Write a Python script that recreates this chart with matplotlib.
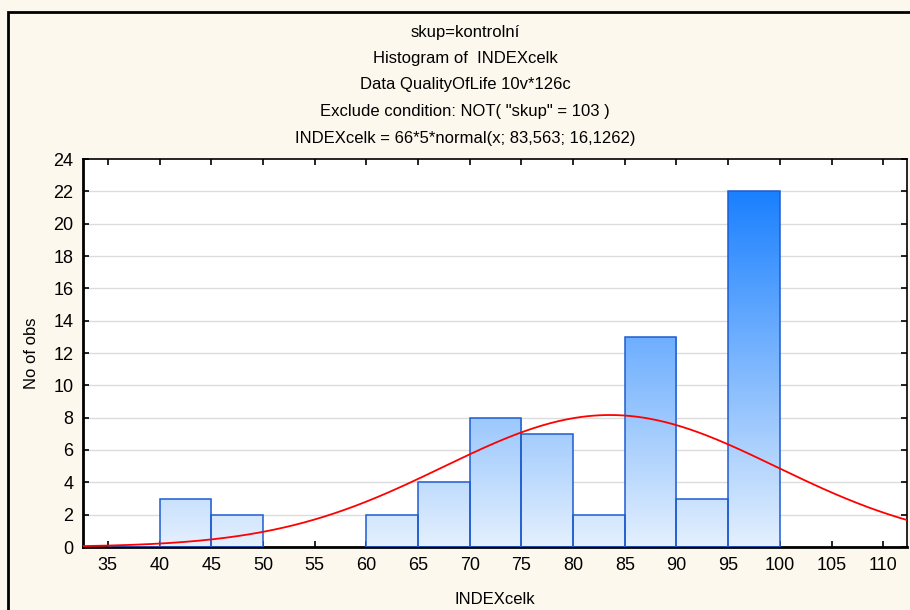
import numpy as np
import matplotlib
matplotlib.use("Agg")
import matplotlib.pyplot as plt
from matplotlib.patches import Rectangle
from matplotlib.colors import LinearSegmentedColormap

plt.rcParams['font.family'] = ['Liberation Sans', 'DejaVu Sans']

# histogram bins (left edges) and counts
bin_left = [35, 40, 45, 60, 65, 70, 75, 80, 85, 90, 95]
counts = [0, 3, 2, 2, 4, 8, 7, 2, 13, 3, 22]
bin_width = 5

# fitted normal: N * width * normal(x; mean; sd)
n_obs = 66
mean = 83.563
sd = 16.1262

title_lines = [
    "skup=kontrolní",
    "Histogram of  INDEXcelk",
    "Data QualityOfLife 10v*126c",
    'Exclude condition: NOT( "skup" = 103 )',
    "INDEXcelk = 66*5*normal(x; 83,563; 16,1262)",
]
x_ticks = list(range(35, 115, 5))
y_ticks = list(range(0, 26, 2))

fig = plt.figure(figsize=(9.1, 6.1), dpi=100)
fig.patch.set_facecolor("#fdf8ee")

# outer frame
fig.add_artist(Rectangle((8 / 910, -0.2), 1.5, 1.2 - 12 / 610,
                         transform=fig.transFigure, fill=False,
                         edgecolor="black", linewidth=2))

ax = fig.add_axes([83 / 910, 63 / 610, 824 / 910, 388 / 610])
ax.set_facecolor("white")
xmin, xmax = 32.6, 112.3

for y in y_ticks[1:-1]:
    ax.axhline(y, color="#dcdcdc", linewidth=1, zorder=0)

# vertical gradient, light at 0 and strong blue at the top of the tallest bar
cmap = LinearSegmentedColormap.from_list("bars", ["#e4f0fd", "#1a80ff"])
grad = np.linspace(0, 1, 256).reshape(-1, 1)
top = max(counts)
for left, c in zip(bin_left, counts):
    rect = Rectangle((left, 0), bin_width, c, facecolor="none",
                     edgecolor="#1f5cd0", linewidth=1.1, zorder=3)
    ax.add_patch(rect)
    if c > 0:
        im = ax.imshow(grad, cmap=cmap, aspect="auto", origin="lower",
                       extent=[xmin, xmax, 0, top], zorder=2)
        im.set_clip_path(rect)

xs = np.linspace(xmin, xmax, 400)
ys = n_obs * bin_width * np.exp(-0.5 * ((xs - mean) / sd) ** 2) / (sd * np.sqrt(2 * np.pi))
ax.plot(xs, ys, color="red", linewidth=1.3, zorder=4)
ax.set_xlim(xmin, xmax)
ax.set_ylim(0, 24)

ax.set_xticks(x_ticks)
ax.set_yticks(y_ticks)
ax.tick_params(axis="both", direction="in", length=4, width=1.2,
               labelsize=13, top=True, right=True, pad=7)
for s in ax.spines.values():
    s.set_linewidth(1.2)
ax.spines["left"].set_linewidth(2)
ax.spines["bottom"].set_linewidth(2)

ax.set_xlabel("INDEXcelk", fontsize=12, labelpad=13)
ax.set_ylabel("No of obs", fontsize=12, labelpad=10)

for i, line in enumerate(title_lines):
    fig.text(465 / 910, 1 - (32 + 26.5 * i) / 610, line, ha="center",
             va="center", fontsize=12)

fig.savefig("out.png", dpi=100, facecolor=fig.get_facecolor())
